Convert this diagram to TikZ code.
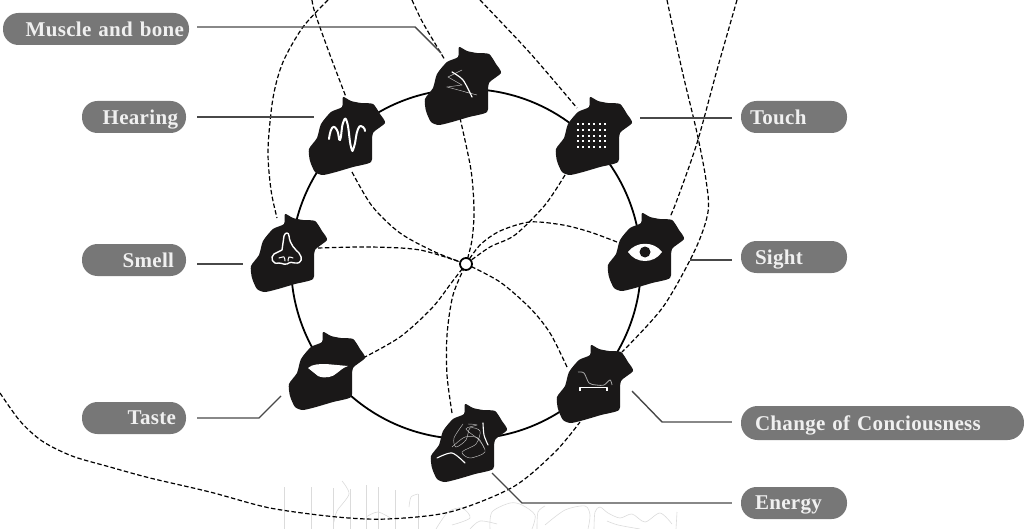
\documentclass[tikz,border=0pt]{standalone}
\usepackage{fontspec}
\setmainfont{Liberation Serif}[LetterSpace=1.5]
\usetikzlibrary{positioning,calc}
\definecolor{pillgray}{HTML}{777777}
\definecolor{leadgray}{HTML}{484848}
\definecolor{blobblack}{HTML}{1A1818}

\tikzset{
  blob/.pic={
    \fill[blobblack] plot[smooth cycle, tension=0.4] coordinates {(-2,-39) (6,-35) (16,-33) (28,-32) (35,-22) (40,-13)
      (28,-3) (27,12) (26,26) (8,31) (-9,36) (-22,39) (-30,36) (-35,25) (-36,13) (-28,2) (-24,-12) (-14,-24) (-3,-29)};
  }
}

\begin{document}
\begin{tikzpicture}[
    x=1pt, y=-1pt,
    pill/.style={fill=pillgray, rounded corners=15.5pt, minimum height=32pt, inner xsep=9pt, inner ysep=0pt,
      text=white!94!black, font=\fontsize{21}{21}\selectfont\bfseries, text depth=0pt},
    leader/.style={draw=leadgray, line width=1.4pt},
    link/.style={dash pattern=on 4.5pt off 2.4pt, line width=1.2pt},
    icon/.style={draw=white, line width=1.4pt, line cap=round, line join=round},
    scrib/.style={draw=gray!50, line width=0.45pt},
    faint/.style={draw=gray!28, line width=0.6pt}
]
\useasboundingbox (0,0) rectangle (1024,529);

\node[pill, text width=176pt, align=right, inner xsep=5pt] (muscle) at (96,29) {Muscle and bone};
\node[pill, text width=88pt, align=right, inner xsep=8pt] (hearing) at (134,117) {Hearing};
\node[pill, text width=80pt, align=right, inner xsep=12pt] (smell) at (134,260) {Smell};
\node[pill, text width=84pt, align=right, inner xsep=10pt] (taste) at (134,418) {Taste};
\node[pill, text width=88pt, align=left] (touch) at (794,117) {Touch};
\node[pill, text width=78pt, align=left, inner xsep=14pt] (sight) at (794,257) {Sight};
\node[pill, text width=255pt, align=left, minimum height=34pt, rounded corners=16.5pt, inner xsep=14pt] (change) at (882.5,423) {Change of Conciousness};
\node[pill, text width=78pt, align=left, inner xsep=14pt] (energy) at (794,503) {Energy};

\coordinate (hub) at (466,264);
\coordinate (mblob) at (461,86);
\coordinate (hblob) at (345,136);
\coordinate (tblob) at (592,136);
\coordinate (nblob) at (287,253);
\coordinate (sblob) at (644,252);
\coordinate (mouth) at (325,371);
\coordinate (cblob) at (593,384);
\coordinate (eblob) at (467,443);

\coordinate (muscleend) at (441,53);
\coordinate (hearingend) at (314,117);
\coordinate (touchend) at (640,118);
\coordinate (smellend) at (243,264);
\coordinate (sightend) at (690,260);
\coordinate (tasteend) at (281,396);
\coordinate (changeend) at (632,391);
\coordinate (energyend) at (492,473);

% faint pencil marks along the bottom
\foreach \xx/\yy in {284/487, 311/487, 333/488, 350/489, 366/485, 378/487, 395/490, 418/494}
  \draw[faint] (\xx,\yy) -- (\xx,529);
\draw[faint] plot[smooth] coordinates {(342,481) (349,494) (337,511) (334,522)};
\draw[faint] plot[smooth] coordinates {(409,507) (411,497) (418,494)};
\draw[faint] plot[smooth] coordinates {(366,517) (378,512) (392,519)};
\draw[faint] plot[smooth] coordinates {(436,529) (448,512) (462,508) (470,518) (452,525)};
\draw[faint] plot[smooth] coordinates {(470,529) (480,521) (497,524)};
\draw[faint] plot[smooth] coordinates {(490,529) (492,512) (510,503) (522,505) (535,515) (532,529)};
\draw[faint] plot[smooth] coordinates {(537,529) (538,512) (545,506)};
\draw[faint] plot[smooth] coordinates {(545,525) (565,510) (585,506) (590,515) (588,529)};
\draw[faint] plot[smooth] coordinates {(594,529) (595,512) (600,507) (608,513) (620,518) (632,514) (645,522) (660,513) (672,524)};
\draw[faint] plot[smooth] coordinates {(607,521) (618,525) (640,529)};
\draw[faint] (677,512) -- (676,529);

\draw[line width=1.8pt] (hub) circle[radius=175];

\draw[link] plot[smooth] coordinates {(312,0) (315,13) (330,55) (346,97)};
\draw[link] plot[smooth] coordinates {(328,0) (303,27) (283,62) (273,98) (268,150) (271,190) (277,218)};
\draw[link] plot[smooth] coordinates {(412,0) (423,23) (445,60)};
\draw[link] plot[smooth] coordinates {(480,0) (530,53) (577,108)};
\draw[link] plot[smooth] coordinates {(667,0) (682,70) (697,133) (706,180) (708,212) (695,250) (663,307) (622,352)};
\draw[link] plot[smooth] coordinates {(737,0) (717,70) (697,143) (677,200) (670,217)};
\draw[link] plot[smooth] coordinates {(352,172) (372,206) (400,233) (435,252) (hub)};
\draw[link] plot[smooth] coordinates {(460,118) (471,170) (474,210) (472,240) (hub)};
\draw[link] plot[smooth] coordinates {(565,175) (545,205) (515,235) (490,247) (hub)};
\draw[link] plot[smooth] coordinates {(617,242) (590,232) (563,225) (530,222) (500,231) (480,245) (hub)};
\draw[link] plot[smooth] coordinates {(567,367) (550,333) (530,308) (500,282) (hub)};
\draw[link] plot[smooth] coordinates {(452,413) (447,375) (447,335) (453,295) (hub)};
\draw[link] plot[smooth] coordinates {(363,358) (400,337) (432,308) (452,282) (hub)};
\draw[link] plot[smooth] coordinates {(318,248) (370,247) (420,250) (hub)};
\draw[link] plot[smooth] coordinates {(0,393) (20,421) (42,441) (72,456) (110,467) (150,478) (210,492) (270,508) (337,517) (387,519) (450,512) (513,487) (555,452) (580,422)};

\draw[leader] (muscle.east) ++(8,-2) -- (415,27) -- (muscleend);
\draw[leader] ($(hearing.east)+(11,0)$) -- (hearingend);
\draw[leader] (touchend) -- ($(touch.west)+(-9,1)$);
\draw[leader] ($(smell.east)+(11,4)$) -- (smellend);
\draw[leader] (sightend) -- ($(sight.west)+(-9,3)$);
\draw[leader] ($(taste.east)+(11,0)$) -- (259,418) -- (tasteend);
\draw[leader] (changeend) -- (662,422) -- ($(change.west)+(-9,-1)$);
\draw[leader] (energyend) -- (522,503) -- ($(energy.west)+(-9,0)$);

\pic at (mblob) {blob};
\pic at (hblob) {blob};
\pic at (tblob) {blob};
\pic at (nblob) {blob};
\pic at (sblob) {blob};
\pic at (mouth) {blob};
\pic at (cblob) {blob};
\pic at (eblob) {blob};

\draw[fill=white, line width=1.8pt] (hub) circle[radius=6];

\draw[scrib] (462,70) -- (448,77) -- (462,85) -- (447,87) -- (477,95) -- (465,92);
\draw[icon, line width=1.2pt] plot[smooth] coordinates {(452,72) (463,80) (472,97)};

\draw[icon, line width=2pt] plot[smooth, tension=0.9] coordinates {(329,139) (332,128) (337,130) (340,140) (343,123) (347,122) (351,147) (354,147) (358,129) (363,127) (365,131)};

\foreach \row in {0,...,4}
  \foreach \col in {0,...,5}
    \fill[white] ({578+\col*5.4-1},{124.5+\row*5.6-1}) rectangle +(2,2);

\draw[icon] (282,250) -- (284,236) .. controls (285,232) and (289,232) .. (289,236)
  .. controls (290,245) and (295,249) .. (299,253) .. controls (303,258) and (302,264) .. (295,263)
  .. controls (292,262) and (290,262) .. (287,264) .. controls (282,265) and (281,262) .. (279,263)
  .. controls (272,265) and (270,257) .. (274,254) -- (282,250);
\draw[icon, line width=1pt] plot[smooth] coordinates {(279,258) (284,257) (285,261)};
\draw[icon, line width=1pt] plot[smooth] coordinates {(293,258) (289,257) (288,261)};

\fill[white] (628,252) .. controls (636,241) and (654,241) .. (662,252) .. controls (654,264) and (636,264) .. (628,252) -- cycle;
\fill[blobblack] (645,252) circle[radius=5.5];

\fill[white] (308,368) .. controls (312,364) and (320,364) .. (326,364) -- (348,366) .. controls (342,368) and (340,371) .. (337,373)
  .. controls (333,377) and (325,379) .. (318,376) -- cycle;

\draw[scrib, gray!70, line width=0.8pt] plot[smooth] coordinates {(578,372) (584,373) (589,383) (596,385) (604,385) (610,380) (612,385)};
\draw[icon, line width=1.2pt, line cap=butt] (580,391) -- (580,387.5) -- (607,387.5) -- (607,391);

\draw[icon, line width=1.1pt] plot[smooth] coordinates {(437,458) (452,453) (465,463)};
\draw[icon, line width=1.1pt] plot[smooth] coordinates {(483,423) (484,435) (488,445)};
\draw[scrib] plot[smooth] coordinates {(463,424) (454,438) (456,447) (466,440) (470,428) (480,431) (476,444) (462,452) (470,458) (485,452) (479,440) (466,429) (477,425) (468,424)};
\draw[scrib] plot[smooth] coordinates {(452,447) (465,437) (478,438) (484,448)};

\end{tikzpicture}
\end{document}
